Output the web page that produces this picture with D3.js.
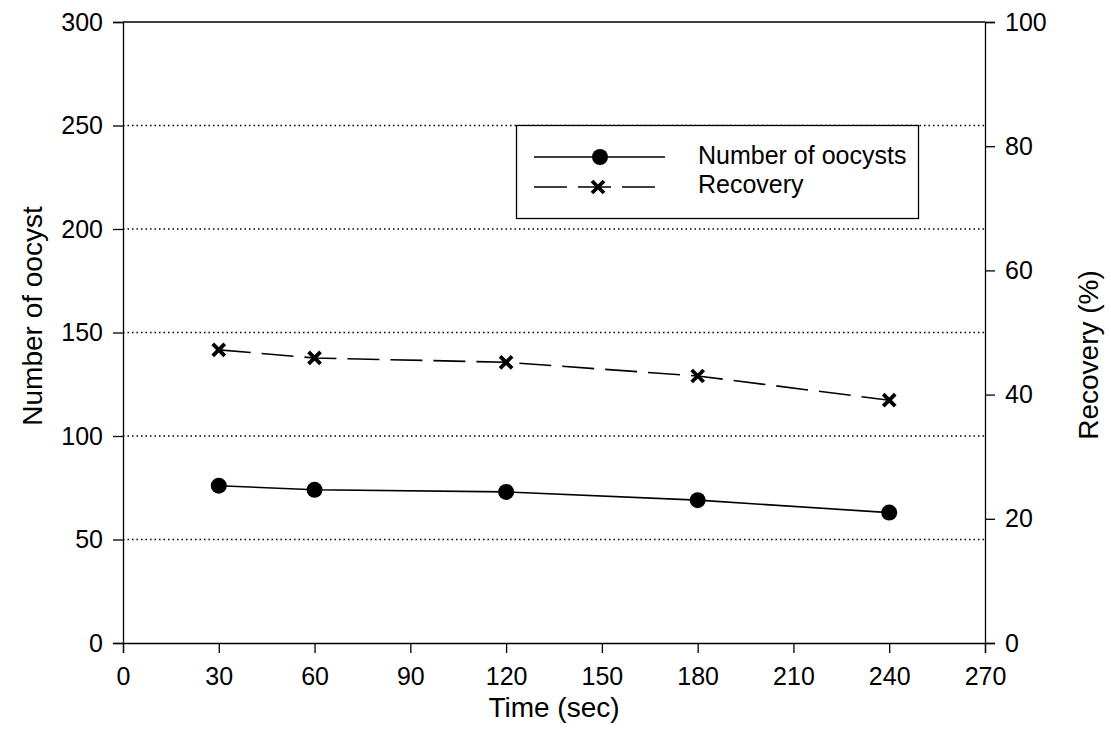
<!DOCTYPE html>
<html><head><meta charset="utf-8">
<script src="https://cdn.jsdelivr.net/npm/d3@7"></script>
<style>body{margin:0;background:#fff;} text{font-family:"Liberation Sans",Arial,sans-serif;}</style>
</head><body>
<svg id="c" width="1111" height="751"></svg>
<script>
const times = [30, 60, 120, 180, 240];
const oocysts = [76, 74, 73, 69, 63];
const recovery = [47.2, 45.9, 45.2, 43.0, 39.1];
const xTicks = [0, 30, 60, 90, 120, 150, 180, 210, 240, 270];
const yLeftTicks = [0, 50, 100, 150, 200, 250, 300];
const yRightTicks = [0, 20, 40, 60, 80, 100];
const gridValues = [50, 100, 150, 200, 250];
const seriesNames = ["Number of oocysts", "Recovery"];

const svg = d3.select("#c");
const L = 123, R = 985, T = 22, B = 643;
const x = d3.scaleLinear().domain([0, 270]).range([L, R]);
const yL = d3.scaleLinear().domain([0, 300]).range([B, T]);
const yR = d3.scaleLinear().domain([0, 100]).range([B, T]);

// grid
svg.append("g").selectAll("line").data(gridValues).join("line")
  .attr("x1", L).attr("x2", R).attr("y1", d => yL(d)).attr("y2", d => yL(d))
  .attr("stroke", "#000").attr("stroke-width", 1.3).attr("stroke-dasharray", "1.5,3");

// frame top
svg.append("line").attr("x1", L).attr("x2", R).attr("y1", T).attr("y2", T).attr("stroke", "#000").attr("stroke-width", 1.3);

const fs = "25px";
const gx = svg.append("g").attr("transform", `translate(0,${B})`)
  .call(d3.axisBottom(x).tickValues(xTicks).tickSizeOuter(0).tickSize(10).tickPadding(14));
const gl = svg.append("g").attr("transform", `translate(${L},0)`)
  .call(d3.axisLeft(yL).tickValues(yLeftTicks).tickSizeOuter(0).tickSize(10).tickPadding(10));
const gr = svg.append("g").attr("transform", `translate(${R},0)`)
  .call(d3.axisRight(yR).tickValues(yRightTicks).tickSizeOuter(0).tickSize(10).tickPadding(10));
[gx, gl, gr].forEach(g => {
  g.selectAll("path,line").attr("stroke", "#000").attr("stroke-width", 1.3);
  g.selectAll("text").attr("font-size", fs).attr("fill", "#000").style("font-family", "Liberation Sans, Arial, sans-serif");
});

// series lines
const lineL = d3.line().x((d, i) => x(times[i])).y(d => yL(d));
const lineR = d3.line().x((d, i) => x(times[i])).y(d => yR(d));
svg.append("path").attr("d", lineL(oocysts)).attr("fill", "none").attr("stroke", "#000").attr("stroke-width", 1.6);
svg.append("path").attr("d", lineR(recovery)).attr("fill", "none").attr("stroke", "#000").attr("stroke-width", 1.6).attr("stroke-dasharray", "32,11");

svg.append("g").selectAll("circle").data(oocysts).join("circle")
  .attr("cx", (d, i) => x(times[i])).attr("cy", d => yL(d)).attr("r", 8).attr("fill", "#000");

function cross(g, cx, cy, s) {
  g.append("path").attr("d", `M${cx - s},${cy - s}L${cx + s},${cy + s}M${cx - s},${cy + s}L${cx + s},${cy - s}`)
    .attr("stroke", "#000").attr("stroke-width", 3.8).attr("fill", "none");
}
const gc = svg.append("g");
recovery.forEach((d, i) => cross(gc, x(times[i]), yR(d), 6));

// legend
const lg = svg.append("g");
lg.append("rect").attr("x", 516.5).attr("y", 125.5).attr("width", 402).attr("height", 93)
  .attr("fill", "#fff").attr("stroke", "#000").attr("stroke-width", 1.3);
lg.append("line").attr("x1", 534).attr("x2", 665).attr("y1", 157).attr("y2", 157).attr("stroke", "#000").attr("stroke-width", 1.6);
lg.append("circle").attr("cx", 600).attr("cy", 157).attr("r", 8).attr("fill", "#000");
lg.append("line").attr("x1", 534).attr("x2", 655).attr("y1", 187).attr("y2", 187).attr("stroke", "#000").attr("stroke-width", 1.6).attr("stroke-dasharray", "33,11");
cross(lg, 598, 187, 6);
lg.append("text").attr("x", 698).attr("y", 164).attr("font-size", "25px").text(seriesNames[0]);
lg.append("text").attr("x", 698).attr("y", 193).attr("font-size", "25px").text(seriesNames[1]);

// titles
svg.append("text").attr("x", 554).attr("y", 717).attr("text-anchor", "middle").attr("font-size", "28px").text("Time (sec)");
svg.append("text").attr("transform", `translate(42,316) rotate(-90)`).attr("text-anchor", "middle").attr("font-size", "28px").text("Number of oocyst");
svg.append("text").attr("transform", `translate(1098,355) rotate(-90)`).attr("text-anchor", "middle").attr("font-size", "28px").text("Recovery (%)");
</script>
</body></html>
